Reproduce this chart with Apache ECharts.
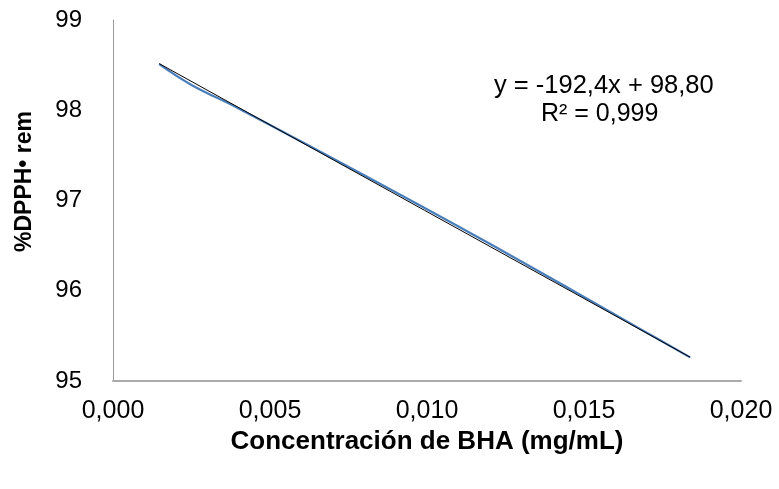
<!DOCTYPE html>
<html>
<head>
<meta charset="utf-8">
<script src="https://cdn.jsdelivr.net/npm/echarts@6/dist/echarts.min.js"></script>
<style>html,body{margin:0;padding:0;background:#fff;}#c{width:779px;height:489px;}</style>
</head>
<body>
<div id="c"></div>
<script>
// Data
var concentration = [0.00147, 0.0025, 0.004, 0.008, 0.012, 0.0168, 0.01838];
var dpphRem = [98.51, 98.28, 98.02, 97.28, 96.52, 95.575, 95.262];
var trendSlope = -192.4;
var trendIntercept = 98.80;
var equationLines = ['y = -192,4x + 98,80', 'R² = 0,999'];
var xTicks = { min: 0, max: 0.02, interval: 0.005 };
var yTicks = { min: 95, max: 99, interval: 1 };

var xFirst = concentration[0], xLast = concentration[concentration.length - 1];
var trendData = [[xFirst, trendIntercept + trendSlope * xFirst], [xLast, trendIntercept + trendSlope * xLast]];
var seriesData = concentration.map(function (x, i) { return [x, dpphRem[i]]; });

var font = 'Liberation Sans, Arial, sans-serif';
var chart = echarts.init(document.getElementById('c'));
chart.setOption({
  animation: false,
  backgroundColor: '#fff',
  grid: { left: 113, right: 38, top: 20, bottom: 108 },
  xAxis: {
    type: 'value', min: xTicks.min, max: xTicks.max, interval: xTicks.interval,
    name: 'Concentración de BHA (mg/mL)', nameLocation: 'middle', nameGap: 46,
    nameTextStyle: { fontFamily: font, fontSize: 26, fontWeight: 'bold', color: '#000' },
    axisLine: { show: true, lineStyle: { color: '#aaaaaa', width: 2 } },
    axisTick: { show: false }, splitLine: { show: false },
    axisLabel: { fontFamily: font, fontSize: 25, color: '#000', margin: 18,
      formatter: function (v) { return v.toFixed(3).replace('.', ','); } }
  },
  yAxis: {
    type: 'value', min: yTicks.min, max: yTicks.max, interval: yTicks.interval,
    name: '%DPPH• rem', nameLocation: 'middle', nameGap: 77, nameRotate: 90,
    nameTextStyle: { fontFamily: font, fontSize: 23, fontWeight: 'bold', color: '#000', padding: [0, 0, 0, 38] },
    axisLine: { show: true, lineStyle: { color: '#999999', width: 1 } },
    axisTick: { show: false }, splitLine: { show: false },
    axisLabel: { fontFamily: font, fontSize: 24, color: '#000', margin: 31 }
  },
  series: [
    { type: 'line', data: seriesData, smooth: 0.4, symbol: 'none',
      lineStyle: { color: '#4a7ebb', width: 2.2 }, z: 2 },
    { type: 'line', data: trendData, symbol: 'none',
      lineStyle: { color: '#000', width: 1 }, z: 3 }
  ],
  graphic: [
    { type: 'text', left: 494, top: 73, style: { text: equationLines[0], fontFamily: font, fontSize: 25.5, fill: '#000' } },
    { type: 'text', left: 541, top: 102, style: { text: equationLines[1], fontFamily: font, fontSize: 25, fill: '#000' } }
  ]
});
</script>
</body>
</html>
